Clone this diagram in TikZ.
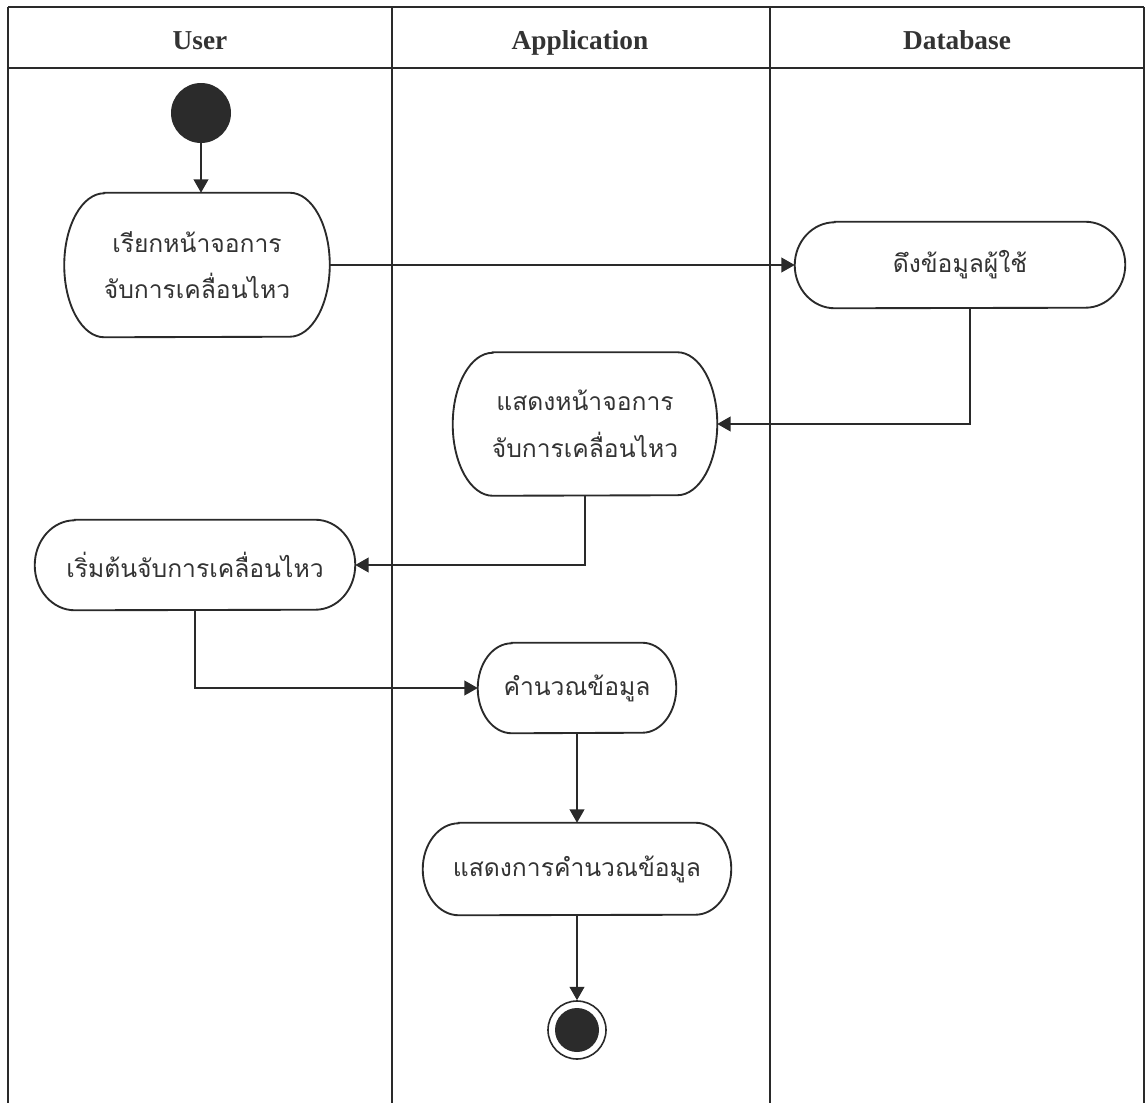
\documentclass[tikz,border=0pt]{standalone}
\usepackage{fontspec}
\setmainfont{Liberation Serif}
\newfontfamily\thaifont[Script=Thai]{Loma}
\usetikzlibrary{arrows.meta}

\definecolor{linec}{HTML}{2A2A2A}
\definecolor{textc}{HTML}{333333}
\definecolor{dotc}{HTML}{2B2B2B}

% rounded activity outline: straight top/bottom, elliptic ends
% #1 node name, #2 end x-radius (px), #3 node height (px)
\newcommand\actoutline[3]{%
  \draw[actline] ([xshift=#2*0.75pt]#1.north west) -- ([xshift=-#2*0.75pt]#1.north east)
    arc[start angle=90,end angle=-90,x radius=#2*0.75pt,y radius=#3*0.375pt]
    -- ([xshift=#2*0.75pt]#1.south west)
    arc[start angle=270,end angle=90,x radius=#2*0.75pt,y radius=#3*0.375pt]
    -- cycle;}

\begin{document}
\begin{tikzpicture}[x=0.75pt,y=-0.75pt,
  lane/.style={draw=linec, line width=0.9pt},
  laneh/.style={draw=linec, line width=1.6pt},
  head/.style={font=\bfseries\fontsize{20.5pt}{24pt}\selectfont, text=textc, anchor=base, inner sep=0pt},
  act/.style={draw=none, align=center, inner sep=0pt,
    font=\thaifont\fontsize{18.5pt}{35pt}\selectfont, text=textc},
  box/.style 2 args={minimum width=#1*0.75pt, minimum height=#2*0.75pt},
  actline/.style={draw=linec, line width=1.4pt},
  flow/.style={draw=linec, line width=1.4pt, -{Triangle[length=10pt,width=11pt]}},
  startdot/.style={circle, fill=dotc, inner sep=0pt, minimum size=60*0.75pt},
  endring/.style={circle, draw=linec, line width=1.2pt, fill=white, inner sep=0pt, minimum size=58*0.75pt},
  enddot/.style={circle, fill=dotc, inner sep=0pt, minimum size=44*0.75pt}]

\useasboundingbox (0,0) rectangle (1147,1103);

% swimlane frame
\draw[lane] (8,1103) -- (8,7);
\draw[laneh] (8,7) -- (1144,7);
\draw[lane] (1144,7) -- (1144,1103);
\draw[laneh] (8,68) -- (1144,68);
\draw[lane] (392,7) -- (392,1103);
\draw[lane] (770,7) -- (770,1103);

% lane titles
\node[head] (hUser) at (200,49) {User};
\node[head] (hApp) at (580,49) {Application};
\node[head] (hDb) at (957,49) {Database};

% start / end
\node[startdot] (start) at (201,113) {};
\node[endring] (end) at (577,1030) {};
\node[enddot] (endin) at (end.center) {};

% activities
\node[act, box={265}{144}] (n1) at (197,265) {เรียกหน้าจอการ\\จับการเคลื่อนไหว};
\node[act, box={330}{86}] (n2) at (960,265) {ดึงข้อมูลผู้ใช้};
\node[act, box={264}{143}] (n3) at (585,424) {แสดงหน้าจอการ\\จับการเคลื่อนไหว};
\node[act, box={320}{90}] (n4) at (195,565) {เริ่มต้นจับการเคลื่อนไหว};
\node[act, box={198}{90}] (n5) at (577,688) {คำนวณข้อมูล};
\node[act, box={308}{92}] (n6) at (577,869) {แสดงการคำนวณข้อมูล};

\actoutline{n1}{40}{144}
\actoutline{n2}{40}{86}
\actoutline{n3}{40}{143}
\actoutline{n4}{40}{90}
\actoutline{n5}{34}{90}
\actoutline{n6}{36}{92}

% control flow
\draw[flow] (start.south) -- (start.south |- n1.north);
\draw[flow] (n1.east) -- (n2.west);
\draw[flow] ([xshift=7.5pt]n2.south) |- (n3.east);
\draw[flow] (n3.south) |- (n4.east);
\draw[flow] (n4.south) |- (n5.west);
\draw[flow] (n5.south) -- (n6.north);
\draw[flow] (n6.south) -- (end.north);
\end{tikzpicture}
\end{document}
